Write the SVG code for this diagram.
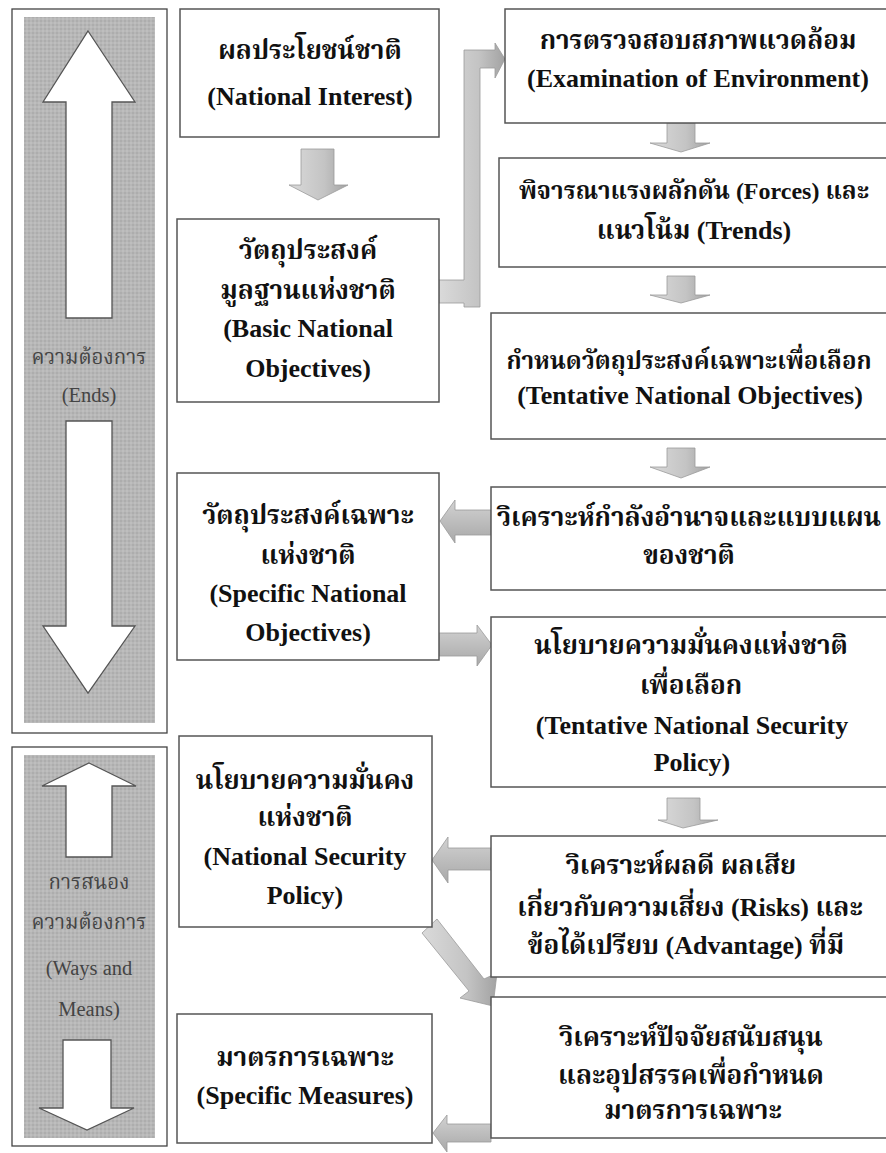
<svg xmlns="http://www.w3.org/2000/svg" width="886" height="1153" viewBox="0 0 886 1153">
<defs>
<pattern id="dots" width="4" height="4" patternUnits="userSpaceOnUse">
<rect width="4" height="4" fill="#b7b7b7"/>
<circle cx="1" cy="1" r="0.8" fill="#a0a0a0"/>
<circle cx="3" cy="3" r="0.8" fill="#c8c8c8"/>
</pattern>
<linearGradient id="gv" x1="0" y1="0" x2="1" y2="0">
<stop offset="0" stop-color="#dadada"/>
<stop offset="0.6" stop-color="#c4c4c4"/>
<stop offset="1" stop-color="#a2a2a2"/>
</linearGradient>
<linearGradient id="gh" x1="0" y1="0" x2="0" y2="1">
<stop offset="0" stop-color="#d2d2d2"/>
<stop offset="1" stop-color="#a8a8a8"/>
</linearGradient>
<style>
.panel{fill:#fff;stroke:#444;stroke-width:1.3}
.inner{fill:url(#dots);stroke:none}
.big{fill:#fff;stroke:#555;stroke-width:1.3;stroke-linejoin:miter}
.box{fill:#fff;stroke:#555;stroke-width:1.5}
.t{font-family:"Liberation Serif","Noto Serif Thai","Noto Sans Thai","Loma","Garuda",serif;font-weight:bold;font-size:26px;fill:#111;text-anchor:middle}
.s{font-size:24px}
.pt{font-family:"Liberation Serif","Noto Serif Thai","Noto Sans Thai","Loma","Garuda",serif;font-size:20.5px;fill:#444;text-anchor:middle}
.ga{fill:url(#gv);stroke:#9a9a9a;stroke-width:0.8}
.gb{fill:url(#gh);stroke:#9a9a9a;stroke-width:0.8}
</style>
</defs>
<rect width="886" height="1153" fill="#fff"/>

<g id="panel-ends">
<rect class="panel" x="12" y="9" width="155" height="724"/>
<rect class="inner" x="24" y="17" width="131" height="706"/>
<polygon class="big" points="88,31 135,102 112,102 112,318 66,318 66,102 43,102"/>
<polygon class="big" points="66,421 112,421 112,626 135,626 88,693 43,626 66,626"/>
<text class="pt" x="89" y="364">ความต้องการ</text>
<text class="pt" x="89" y="402">(Ends)</text>
</g>

<g id="panel-ways">
<rect class="panel" x="12" y="747" width="155" height="399"/>
<rect class="inner" x="24" y="755" width="131" height="383"/>
<polygon class="big" points="89,763 136,786 112,786 112,857 66,857 66,786 42,786"/>
<polygon class="big" points="63,1040 111,1040 111,1108 134,1108 87,1130 39,1108 63,1108"/>
<text class="pt" x="89" y="889">การสนอง</text>
<text class="pt" x="89" y="929">ความต้องการ</text>
<text class="pt" x="89" y="975">(Ways and</text>
<text class="pt" x="89" y="1016">Means)</text>
</g>

<g id="connectors">
<polygon class="ga" points="301,149 334,149 334,185 348,185 318,200 289,185 301,185"/>
<path class="ga" d="M439,280 L464,280 L464,50 L495,50 L495,43 L505,59 L495,78 L495,68 L480,68 L480,307 L464,307 L464,303 L439,303 Z"/>
<polygon class="ga" points="667,123 695,123 695,143 710,143 681,152 650,143 667,143"/>
<polygon class="ga" points="667,276 695,276 695,295 710,295 681,303 650,295 667,295"/>
<polygon class="ga" points="667,448 695,448 695,467 710,467 681,478 650,467 667,467"/>
<polygon class="gb" points="491,510 455,510 455,500 440,521 455,543 455,535 491,535"/>
<polygon class="gb" points="439,633 477,633 477,625 492,645 477,666 477,656 439,656"/>
<polygon class="ga" points="667,798 700,798 700,820 718,820 683,828 658,820 667,820"/>
<polygon class="gb" points="491,848 448,848 448,837 432,860 448,883 448,870 491,870"/>
<polygon class="ga" points="422,933 437,919 484,979 497,973 493,1006 460,998 469,991"/>
<polygon class="gb" points="491,1124 447,1124 447,1115 433,1133 447,1152 447,1142 491,1142"/>
</g>

<g id="n-national-interest">
<rect class="box" x="180" y="9" width="259" height="128"/>
<text class="t" x="310" y="59">ผลประโยชน์ชาติ</text>
<text class="t" x="310" y="105">(National Interest)</text>
</g>

<g id="n-basic-objectives">
<rect class="box" x="177" y="219" width="262" height="183"/>
<text class="t" x="308" y="259">วัตถุประสงค์</text>
<text class="t" x="308" y="299">มูลฐานแห่งชาติ</text>
<text class="t" x="308" y="337">(Basic National</text>
<text class="t" x="308" y="377">Objectives)</text>
</g>

<g id="n-examination">
<rect class="box" x="505" y="9" width="390" height="114"/>
<text class="t" x="698" y="49">การตรวจสอบสภาพแวดล้อม</text>
<text class="t" x="698" y="87">(Examination of Environment)</text>
</g>

<g id="n-forces">
<rect class="box" x="499" y="158" width="396" height="109"/>
<text class="t s" x="694" y="199">พิจารณาแรงผลักดัน (Forces) และ</text>
<text class="t" x="694" y="239">แนวโน้ม (Trends)</text>
</g>

<g id="n-tentative-objectives">
<rect class="box" x="491" y="313" width="404" height="126"/>
<text class="t s" x="689" y="369">กำหนดวัตถุประสงค์เฉพาะเพื่อเลือก</text>
<text class="t" x="690" y="404">(Tentative National Objectives)</text>
</g>

<g id="n-power-analysis">
<rect class="box" x="491" y="487" width="404" height="103"/>
<text class="t" x="689" y="526">วิเคราะห์กำลังอำนาจและแบบแผน</text>
<text class="t" x="689" y="564">ของชาติ</text>
</g>

<g id="n-specific-objectives">
<rect class="box" x="177" y="473" width="262" height="187"/>
<text class="t" x="308" y="524">วัตถุประสงค์เฉพาะ</text>
<text class="t" x="308" y="564">แห่งชาติ</text>
<text class="t" x="308" y="602">(Specific National</text>
<text class="t" x="308" y="641">Objectives)</text>
</g>

<g id="n-tentative-policy">
<rect class="box" x="491" y="617" width="404" height="170"/>
<text class="t" x="691" y="654">นโยบายความมั่นคงแห่งชาติ</text>
<text class="t" x="691" y="694">เพื่อเลือก</text>
<text class="t" x="692" y="734">(Tentative National Security</text>
<text class="t" x="692" y="771">Policy)</text>
</g>

<g id="n-risks">
<rect class="box" x="491" y="836" width="404" height="141"/>
<text class="t" x="681" y="874">วิเคราะห์ผลดี ผลเสีย</text>
<text class="t" x="690" y="916">เกี่ยวกับความเสี่ยง (Risks) และ</text>
<text class="t" x="686" y="954">ข้อได้เปรียบ (Advantage) ที่มี</text>
</g>

<g id="n-security-policy">
<rect class="box" x="179" y="736" width="253" height="191"/>
<text class="t" x="305" y="789">นโยบายความมั่นคง</text>
<text class="t" x="305" y="826">แห่งชาติ</text>
<text class="t" x="305" y="865">(National Security</text>
<text class="t" x="305" y="904">Policy)</text>
</g>

<g id="n-factors">
<rect class="box" x="491" y="997" width="404" height="141"/>
<text class="t" x="691" y="1046">วิเคราะห์ปัจจัยสนับสนุน</text>
<text class="t" x="691" y="1084">และอุปสรรคเพื่อกำหนด</text>
<text class="t" x="693" y="1119">มาตรการเฉพาะ</text>
</g>

<g id="n-specific-measures">
<rect class="box" x="177" y="1014" width="255" height="129"/>
<text class="t" x="305" y="1066">มาตรการเฉพาะ</text>
<text class="t" x="305" y="1104">(Specific Measures)</text>
</g>
</svg>
